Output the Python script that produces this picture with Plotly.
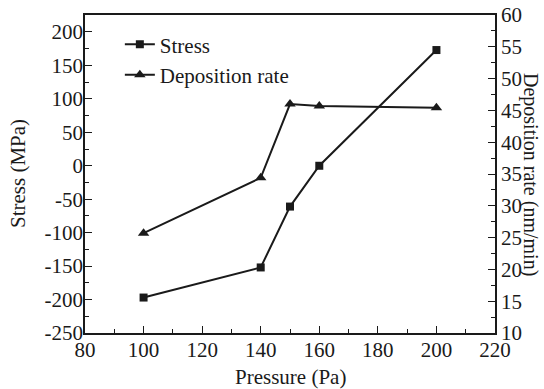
import plotly.graph_objects as go

pressure = [100, 140, 150, 160, 200]
stress = [-197, -152, -61, 0, 173]
deposition_rate = [25.7, 34.4, 46.0, 45.7, 45.4]

stress_ticks = [-250, -200, -150, -100, -50, 0, 50, 100, 150, 200]
stress_tick_text = ["-250", "-200", "-150", "-100", "-50", "0", "50", "100", "150", "200"]

ink = "#1a1a1a"
font_family = "Liberation Serif, Times New Roman, serif"
fsize = 21
title_font = dict(family=font_family, size=fsize, color=ink)

fig = go.Figure()
fig.add_trace(go.Scatter(
    x=pressure, y=stress, name="Stress", mode="lines+markers",
    line=dict(color=ink, width=2),
    marker=dict(symbol="square", size=8, color=ink),
))
fig.add_trace(go.Scatter(
    x=pressure, y=deposition_rate, name="Deposition rate", mode="lines+markers",
    yaxis="y2",
    line=dict(color=ink, width=2),
    marker=dict(symbol="triangle-up", size=10, color=ink),
))

axis_common = dict(
    showline=True, linecolor=ink, linewidth=1.5,
    ticks="inside", ticklen=7, tickwidth=1.2, tickcolor=ink,
    showgrid=False, zeroline=False, automargin=False,
    tickfont=dict(family=font_family, size=fsize, color=ink),
)

fig.update_layout(
    width=544, height=389,
    margin=dict(l=85, r=49, t=15, b=56),
    paper_bgcolor="white", plot_bgcolor="white",
    font=dict(family=font_family, size=fsize, color=ink),
    xaxis=dict(
        range=[80, 220], dtick=20, tick0=80, mirror=True,
        ticklabelstandoff=-3,
        minor=dict(dtick=10, ticks="inside", ticklen=4, tickcolor=ink),
        **axis_common,
    ),
    yaxis=dict(
        range=[-250, 225.4], tickmode="array",
        tickvals=stress_ticks, ticktext=stress_tick_text,
        ticklabelstandoff=-4,
        minor=dict(dtick=25, tick0=-250, ticks="inside", ticklen=4, tickcolor=ink),
        **axis_common,
    ),
    yaxis2=dict(
        range=[10, 60], dtick=5, tick0=10, overlaying="y", side="right",
        minor=dict(dtick=2.5, ticks="inside", ticklen=4, tickcolor=ink),
        **axis_common,
    ),
    legend=dict(
        x=0.085, y=0.971, xanchor="left", yanchor="top",
        bgcolor="rgba(0,0,0,0)", borderwidth=0,
        font=dict(family=font_family, size=fsize, color=ink),
        itemwidth=30, tracegroupgap=0,
    ),
    showlegend=True,
    annotations=[
        dict(text="Pressure (Pa)", xref="paper", yref="paper", x=0.5, y=0,
             xanchor="center", yanchor="middle", yshift=-44,
             showarrow=False, font=title_font),
        dict(text="Stress (MPa)", textangle=-90, xref="paper", yref="paper",
             x=0, y=0.5, xanchor="center", yanchor="middle", xshift=-67,
             showarrow=False, font=title_font),
        dict(text="Deposition rate (nm/min)", textangle=90,
             xref="paper", yref="paper", x=1.0, y=0.5,
             xanchor="center", yanchor="middle", xshift=36,
             showarrow=False, font=dict(family=font_family, size=20, color=ink)),
    ],
)

fig.write_html("out.html")
